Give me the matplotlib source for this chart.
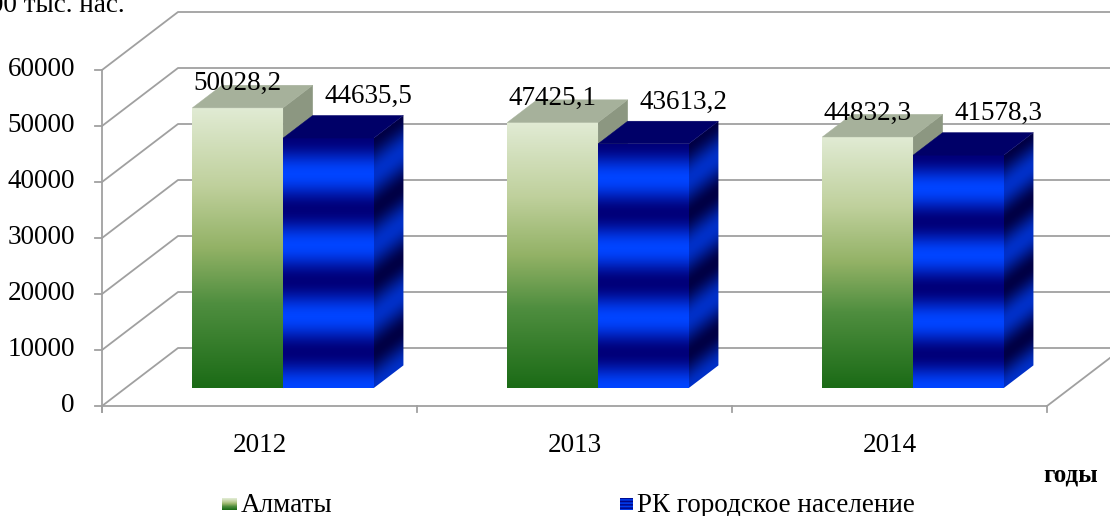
import numpy as np
import matplotlib.pyplot as plt
from matplotlib.colors import LinearSegmentedColormap
from matplotlib.patches import Polygon

# Данные
years = ['2012', '2013', '2014']
almaty = [50028.2, 47425.1, 44832.3]
rk_urban = [44635.5, 43613.2, 41578.3]
series_names = ['Алматы', 'РК городское население']
y_ticks = [0, 10000, 20000, 30000, 40000, 50000, 60000]

plt.rcParams['font.family'] = ['Liberation Serif', 'DejaVu Serif']
FS = 19.5

W, H = 1110, 516
PX_X = 315.0          # пикселей на категорию
PX_V = 0.0056         # пикселей на единицу значения
DX = 76 / PX_X        # глубина по x
DY = 58 / PX_V        # глубина по y
D0, D1 = 0.31, 0.70   # передняя / задняя грань столбцов
BW = 0.288            # ширина столбца
N_BANDS = 3.5

green_cm = LinearSegmentedColormap.from_list(
    'g', [(0, '#1b6b16'), (0.3, '#4f8e3f'), (0.5, '#93b266'), (0.72, '#bfd09c'), (1, '#e1ebd4')])
blue_cm = LinearSegmentedColormap.from_list('b', ['#0044ff', '#00007a'])
blue_side_cm = LinearSegmentedColormap.from_list('bs', ['#0030c8', '#000045'])
GRID = '#a0a0a0'


def proj(x, v, d):
    return (x + d * DX, v + d * DY)


def face(ax, pts, func, cmap, z):
    pts = np.array(pts)
    x0, x1 = pts[:, 0].min(), pts[:, 0].max()
    y0, y1 = pts[:, 1].min(), pts[:, 1].max()
    X, Y = np.meshgrid(np.linspace(x0, x1, 80), np.linspace(y0, y1, 400))
    im = ax.imshow(func(X, Y), extent=(x0, x1, y0, y1), origin='lower', cmap=cmap,
                   vmin=0, vmax=1, aspect='auto', interpolation='bilinear', zorder=z)
    p = Polygon(pts, closed=True, fc='none', ec='none')
    ax.add_patch(p)
    im.set_clip_path(p)


def flat(ax, pts, color, z):
    ax.add_patch(Polygon(pts, closed=True, fc=color, ec=color, lw=0.3, zorder=z))


def bands(t):
    return 0.5 * (1 + np.cos(2 * np.pi * N_BANDS * t))


def draw_bar(ax, xl, val, kind, z):
    xr = xl + BW
    fl_b, fr_b = proj(xl, 0, D0), proj(xr, 0, D0)
    fl_t, fr_t = proj(xl, val, D0), proj(xr, val, D0)
    bl_t, br_t, br_b = proj(xl, val, D1), proj(xr, val, D1), proj(xr, 0, D1)
    front = [fl_b, fr_b, fr_t, fl_t]
    top = [fl_t, fr_t, br_t, bl_t]
    side = [fr_b, br_b, br_t, fr_t]
    yb, yt = fl_b[1], fl_t[1]
    if kind == 'green':
        flat(ax, side, '#8c9781', z)
        face(ax, front, lambda X, Y: (Y - yb) / (yt - yb), green_cm, z + 0.1)
        flat(ax, top, '#a6b19b', z + 0.2)
    else:
        def side_f(X, Y):
            s = (X - fr_b[0]) / ((D1 - D0) * DX)
            yloc = Y - s * (D1 - D0) * DY
            return bands((yt - yloc) / (yt - yb))
        face(ax, side, side_f, blue_side_cm, z)
        face(ax, front, lambda X, Y: bands((yt - Y) / (yt - yb)), blue_cm, z + 0.1)
        flat(ax, top, '#000068', z + 0.2)


fig = plt.figure(figsize=(W / 100, H / 100), dpi=100)
ax = fig.add_axes([0, 0, 1, 1])
ax.axis('off')

# стены и сетка
x_left, x_right = -0.5, len(years) - 0.5
for v in y_ticks:
    a, b = proj(x_left, v, 0), proj(x_left, v, 1)
    c = proj(x_right, v, 1)
    ax.plot([a[0], b[0], c[0] + 1], [a[1], b[1], c[1]], color=GRID, lw=1.3, zorder=1)
    ax.plot([x_left - 7 / PX_X, x_left], [v, v], color=GRID, lw=1.3, zorder=1)
    ax.annotate(f'{v}', xy=(x_left, v), xytext=(-27, 0), textcoords='offset pixels',
                ha='right', va='center', fontsize=FS)
ax.plot([x_left, x_left], [-1000, y_ticks[-1]], color=GRID, lw=1.3, zorder=1)
ax.plot([x_left, x_right], [0, 0], color=GRID, lw=1.3, zorder=1)
fr = proj(x_right, 0, 1)
ax.plot([x_right, fr[0]], [0, fr[1]], color=GRID, lw=1.3, zorder=1)
for k in range(len(years) + 1):
    ax.plot([x_left + k, x_left + k], [0, -6 / PX_V], color=GRID, lw=1.3, zorder=1)

# столбцы
for i, year in enumerate(years):
    draw_bar(ax, i - BW, almaty[i], 'green', 2 + i)
    draw_bar(ax, i, rk_urban[i], 'blue', 2.5 + i)
    ax.annotate(f'{almaty[i]:.1f}'.replace('.', ','), xy=proj(i - BW / 2, almaty[i], D0),
                xytext=(0, 24), textcoords='offset pixels', ha='center', va='center',
                fontsize=FS, zorder=10)
    ax.annotate(f'{rk_urban[i]:.1f}'.replace('.', ','), xy=proj(i + BW / 2, rk_urban[i], D1),
                xytext=(10, 19), textcoords='offset pixels', ha='center', va='center',
                fontsize=FS, zorder=10)
    ax.annotate(year, xy=(i, 0), xytext=(0, -40), textcoords='offset pixels',
                ha='center', va='center', fontsize=FS)

ax.set_xlim(-0.5 - 102 / PX_X, -0.5 + (W - 102) / PX_X)
ax.set_ylim(-(H - 406) / PX_V, 406 / PX_V)

fig.text(125 / W, 1 - 12 / H, 'на 100 тыс. нас.', ha='right', va='baseline', fontsize=FS)
fig.text(1071 / W, 1 - 475 / H, 'годы', ha='center', va='center', fontsize=18, fontweight='bold')

# легенда
sw_g = fig.add_axes([222 / W, 1 - 510 / H, 15 / W, 12 / H])
sw_g.imshow(np.linspace(1, 0, 20).reshape(-1, 1), cmap=green_cm, vmin=0, vmax=1, aspect='auto')
sw_g.axis('off')
sw_b = fig.add_axes([620 / W, 1 - 510 / H, 13 / W, 12 / H])
sw_b.imshow(bands(np.linspace(0, 1, 40)).reshape(-1, 1), cmap=blue_cm, vmin=0, vmax=1, aspect='auto')
sw_b.axis('off')
fig.text(241 / W, 1 - 512 / H, series_names[0], ha='left', va='baseline', fontsize=FS)
fig.text(637 / W, 1 - 512 / H, series_names[1], ha='left', va='baseline', fontsize=FS)

fig.savefig('out.png', dpi=100)
